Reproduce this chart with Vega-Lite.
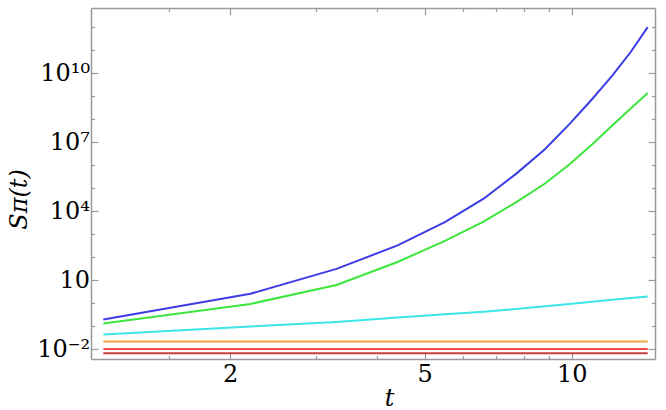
{
  "$schema": "https://vega.github.io/schema/vega-lite/v6.json",
  "width": 564,
  "height": 351,
  "autosize": "none",
  "padding": {"left": 91, "top": 8, "right": 11, "bottom": 51},
  "background": "white",
  "config": {
    "font": "DejaVu Serif",
    "view": {"stroke": null},
    "axis": {
      "labelFont": "DejaVu Serif",
      "titleFont": "DejaVu Serif",
      "labelFontSize": 24,
      "titleFontSize": 24,
      "titleFontWeight": "normal",
      "labelColor": "black",
      "titleColor": "black",
      "domainColor": "#999999",
      "domainWidth": 1.5,
      "tickColor": "#999999",
      "tickWidth": 1.2,
      "grid": false,
      "labelFlush": false,
      "labelOverlap": false
    }
  },
  "data": {
    "values": [
      {"t": 1.1, "blue": 0.1995, "green": 0.135, "cyan": 0.0447, "orange": 0.0224, "red": 0.0105, "darkred": 0.0068},
      {"t": 2.2, "blue": 2.63, "green": 0.955, "cyan": 0.1, "orange": 0.0224, "red": 0.0105, "darkred": 0.0068},
      {"t": 3.3, "blue": 31.6, "green": 6.31, "cyan": 0.158, "orange": 0.0224, "red": 0.0105, "darkred": 0.0068},
      {"t": 4.4, "blue": 331, "green": 63.1, "cyan": 0.243, "orange": 0.0224, "red": 0.0105, "darkred": 0.0068},
      {"t": 5.5, "blue": 3390, "green": 525, "cyan": 0.336, "orange": 0.0224, "red": 0.0105, "darkred": 0.0068},
      {"t": 6.6, "blue": 35500, "green": 3550, "cyan": 0.437, "orange": 0.0224, "red": 0.0105, "darkred": 0.0068},
      {"t": 7.7, "blue": 436000, "green": 25100, "cyan": 0.575, "orange": 0.0224, "red": 0.0105, "darkred": 0.0068},
      {"t": 8.8, "blue": 4900000, "green": 158000, "cyan": 0.752, "orange": 0.0224, "red": 0.0105, "darkred": 0.0068},
      {"t": 9.9, "blue": 63100000, "green": 1100000, "cyan": 0.955, "orange": 0.0224, "red": 0.0105, "darkred": 0.0068},
      {"t": 11, "blue": 741000000, "green": 7940000, "cyan": 1.175, "orange": 0.0224, "red": 0.0105, "darkred": 0.0068},
      {"t": 12.1, "blue": 7760000000, "green": 53700000, "cyan": 1.435, "orange": 0.0224, "red": 0.0105, "darkred": 0.0068},
      {"t": 13.2, "blue": 83200000000, "green": 295000000, "cyan": 1.714, "orange": 0.0224, "red": 0.0105, "darkred": 0.0068},
      {"t": 14.3, "blue": 1000000000000, "green": 1380000000, "cyan": 1.995, "orange": 0.0224, "red": 0.0105, "darkred": 0.0068}
    ]
  },
  "transform": [
    {"fold": ["darkred", "red", "orange", "cyan", "green", "blue"], "as": ["series", "S"]}
  ],
  "layer": [
    {
      "mark": {"type": "line", "strokeWidth": 2, "clip": true},
      "encoding": {
        "x": {
          "field": "t",
          "type": "quantitative",
          "scale": {"type": "log", "domain": [1.038, 14.8], "nice": false, "zero": false},
          "axis": {
            "orient": "bottom",
            "values": [1.5, 2, 3, 4, 5, 6, 7, 8, 9, 10],
            "labelExpr": "datum.value == 2 || datum.value == 5 || datum.value == 10 ? '' + datum.value : ''",
            "tickSize": {"condition": {"test": "datum.value == 2 || datum.value == 5 || datum.value == 10", "value": -7}, "value": -3.5},
            "labelPadding": 10.5,
            "title": "t",
            "titleFontStyle": "italic",
            "titleBaseline": "alphabetic",
            "titleAlign": "center",
            "titleX": 298,
            "titleY": 46
          }
        },
        "y": {
          "field": "S",
          "type": "quantitative",
          "scale": {"type": "log", "domain": [0.003864, 6790000000000], "nice": false, "zero": false},
          "axis": {
            "orient": "left",
            "values": [0.01, 0.1, 1, 10, 100, 1000, 10000, 100000, 1000000, 10000000, 100000000, 1000000000, 10000000000, 100000000000, 1000000000000],
            "labelExpr": "(round(log(datum.value)/LN10)+2) % 3 != 0 ? '' : datum.value < 0.05 ? '10⁻²' : datum.value < 50 ? '10' : datum.value < 50000 ? '10⁴' : datum.value < 50000000 ? '10⁷' : '10¹⁰'",
            "tickSize": {"condition": {"test": "(round(log(datum.value)/LN10)+2) % 3 == 0", "value": -7}, "value": -3.5},
            "labelPadding": 8.5,
            "labelBaseline": "middle",
            "title": "Sπ(t)",
            "titleFontStyle": "italic",
            "titleAngle": -90,
            "titleAlign": "center",
            "titleBaseline": "middle",
            "titleX": -72,
            "titleY": 191
          }
        },
        "color": {
          "field": "series",
          "type": "nominal",
          "scale": {
            "domain": ["darkred", "red", "orange", "cyan", "green", "blue"],
            "range": ["#c83c3c", "#f04c4c", "#f0a040", "#3ce6e6", "#3ce63c", "#3c3ce6"]
          },
          "legend": null
        }
      }
    },
    {
      "mark": {"type": "line", "opacity": 0},
      "encoding": {
        "x": {
          "field": "t",
          "type": "quantitative",
          "axis": {
            "orient": "top",
            "values": [1.5, 2, 3, 4, 5, 6, 7, 8, 9, 10],
            "labels": false,
            "title": null,
            "tickSize": {"condition": {"test": "datum.value == 2 || datum.value == 5 || datum.value == 10", "value": -7}, "value": -3.5}
          }
        },
        "y": {
          "field": "S",
          "type": "quantitative",
          "axis": {
            "orient": "right",
            "values": [0.01, 0.1, 1, 10, 100, 1000, 10000, 100000, 1000000, 10000000, 100000000, 1000000000, 10000000000, 100000000000, 1000000000000],
            "labels": false,
            "title": null,
            "tickSize": {"condition": {"test": "(round(log(datum.value)/LN10)+2) % 3 == 0", "value": -7}, "value": -3.5}
          }
        },
        "detail": {"field": "series", "type": "nominal"}
      }
    }
  ],
  "resolve": {"axis": {"x": "independent", "y": "independent"}}
}
